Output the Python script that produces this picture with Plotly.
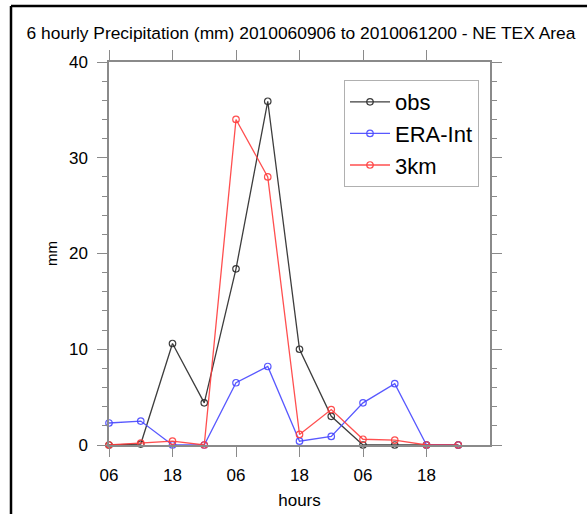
import plotly.graph_objects as go

# 6-hourly steps from 2010060906 to 2010061212
step_index = list(range(12))
tick_positions = [0, 2, 4, 6, 8, 10]
tick_labels = ["06", "18", "06", "18", "06", "18"]

obs = [0.0, 0.1, 10.6, 4.4, 18.4, 35.9, 10.0, 3.0, 0.0, 0.0, 0.0, 0.0]
era_int = [2.3, 2.5, 0.0, 0.0, 6.5, 8.2, 0.4, 0.9, 4.4, 6.4, 0.0, 0.0]
km3 = [0.0, 0.2, 0.4, 0.0, 34.0, 28.0, 1.1, 3.7, 0.6, 0.5, 0.0, 0.0]

W, H = 587, 514
L, R, T, B = 109, 490, 62, 445  # plot area in pixels


def px_x(p):
    return (p - L) / (R - L)


def px_y(p):
    return (B - p) / (B - T)


font = "Liberation Sans, Arial, sans-serif"

fig = go.Figure()
series = [
    ("obs", obs, "rgba(40,40,40,0.9)"),
    ("ERA-Int", era_int, "rgba(70,70,255,0.9)"),
    ("3km", km3, "rgba(255,60,60,0.9)"),
]
for name, vals, col in series:
    fig.add_trace(go.Scatter(
        x=step_index, y=vals, name=name, mode="lines+markers",
        line=dict(color=col, width=1.3),
        marker=dict(symbol="circle-open", size=6.5, color=col, line=dict(width=1.2)),
        cliponaxis=False,
    ))

axis_col = "#8a8a8a"
fig.update_xaxes(
    range=[0, 12], tickvals=tick_positions, ticktext=tick_labels,
    showline=True, linecolor=axis_col, linewidth=1.5, mirror="allticks",
    ticks="outside", ticklen=10, tickwidth=1.3, tickcolor=axis_col,
    showgrid=False, zeroline=False, ticklabelstandoff=4, automargin=False,
    tickfont=dict(size=17, color="black", family=font),
    title=dict(text="hours", font=dict(size=17, color="black", family=font), standoff=10),
)
fig.update_yaxes(
    range=[0, 40], tickvals=[0, 10, 20, 30, 40],
    showline=True, linecolor=axis_col, linewidth=1.5, mirror="allticks",
    ticks="outside", ticklen=10, tickwidth=1.3, tickcolor=axis_col,
    minor=dict(dtick=2, ticks="outside", ticklen=5, tickwidth=1.1, tickcolor=axis_col, showgrid=False),
    showgrid=False, zeroline=False, ticklabelstandoff=6, automargin=False,
    tickfont=dict(size=17, color="black", family=font),
    title=dict(text="mm", font=dict(size=15, color="black", family=font), standoff=8),
)

# outer frame (left and top edges)
frame = dict(color="black", width=2.5)
fig.add_shape(type="line", xref="paper", yref="paper",
              x0=px_x(11), x1=px_x(11), y0=px_y(6), y1=px_y(520), line=frame)
fig.add_shape(type="line", xref="paper", yref="paper",
              x0=px_x(11), x1=px_x(600), y0=px_y(6), y1=px_y(6), line=frame)

fig.update_layout(
    width=W, height=H,
    margin=dict(l=L, r=W - R, t=T, b=H - B, pad=0, autoexpand=False),
    paper_bgcolor="white", plot_bgcolor="white",
    title=dict(
        text="6 hourly Precipitation (mm) 2010060906 to 2010061200 - NE TEX Area",
        x=px_x(301), xanchor="center", xref="paper", y=1 - 33 / H, yanchor="middle",
        font=dict(size=17.4, color="black", family=font), automargin=False,
    ),
    legend=dict(
        x=px_x(344), y=px_y(80), xanchor="left", yanchor="top",
        bgcolor="white", bordercolor="#b0b0b0", borderwidth=1,
        font=dict(size=22, color="black", family=font),
        tracegroupgap=0, itemwidth=40,
    ),
    showlegend=True,
)

fig.write_html("out.html")
